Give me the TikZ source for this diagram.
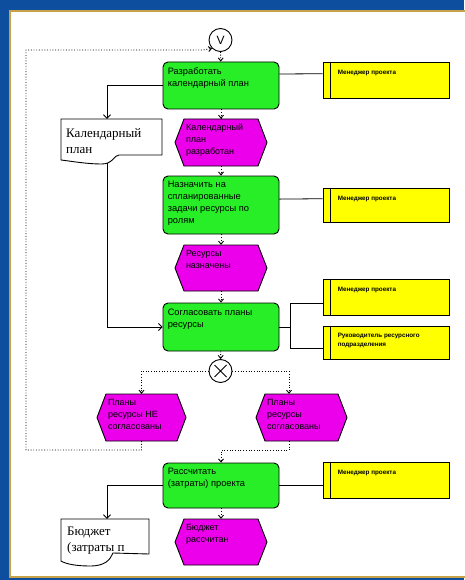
\documentclass[tikz,border=0pt]{standalone}
\usepackage{fontspec}
\setmainfont{Liberation Sans}
\newfontfamily\docfont{Liberation Serif}
\usetikzlibrary{arrows.meta,calc}
\definecolor{frameblue}{RGB}{14,78,158}
\definecolor{framegold}{RGB}{200,162,72}
\definecolor{fgreen}{RGB}{40,238,40}
\definecolor{emag}{RGB}{236,0,236}
\definecolor{oyel}{RGB}{255,255,0}
\tikzset{
  func/.style={draw, line width=0.9pt, fill=fgreen, rounded corners=5pt, minimum width=116pt, inner sep=0pt},
  orgbox/.style={draw, line width=0.9pt, fill=oyel, minimum width=126pt, inner sep=0pt},
  evshape/.style={draw, line width=0.9pt, fill=emag},
  evnode/.style={inner sep=0pt},
  docshape/.style={draw, line width=0.9pt, fill=white},
  txt/.style={anchor=north west, inner sep=0pt, align=left, font=\fontsize{9.3}{12}\selectfont},
  evtxt/.style={anchor=north west, inner sep=0pt, align=left, font=\fontsize{9}{12}\selectfont},
  orgtxt/.style={anchor=north west, inner sep=0pt, align=left, font=\bfseries\fontsize{6.3}{9}\selectfont},
  doctxt/.style={anchor=north west, inner sep=0pt, align=left, font=\docfont\fontsize{13}{16}\selectfont},
  conn/.style={line width=0.8pt},
  tip/.style={-{Straight Barb[length=3.5pt,width=7pt]}},
  flow/.style={line width=0.9pt, dash pattern=on 0.9pt off 1.8pt, -{Straight Barb[length=3pt,width=5pt]}},
  connector/.style={draw, circle, line width=0.9pt, fill=white, minimum size=23pt, inner sep=0pt}
}
\newcommand\evbox[6]{%
  \path[evshape] ({#2-#4/2},#3) -- ({#2-#4/2+9},{#3-#5/2}) -- ({#2+#4/2-9},{#3-#5/2})
     -- ({#2+#4/2},#3) -- ({#2+#4/2-9},{#3+#5/2}) -- ({#2-#4/2+9},{#3+#5/2}) -- cycle;
  \node[evnode, minimum width=#4, minimum height=#5] (#1) at (#2,#3) {};
  \node[evtxt] (#1t) at ($(#1.north west)+(11,5)$) {#6};
}
\begin{document}
\begin{tikzpicture}[x=1pt,y=-1pt]
\useasboundingbox (0,0) rectangle (464,580);
% frame
\fill[frameblue] (0,0) rectangle (464,580);
\fill[framegold] (9,10) rectangle (470,578);
\fill[white] (11,12) rectangle (470,576);

% connectors
\node[connector, font=\fontsize{12}{12}\selectfont] (V) at (220.5,40) {V};
\node[connector] (X) at (220.5,371) {};
\draw[line width=0.9pt] ($(X)+(-6,-6)$) -- ($(X)+(6,6)$) ($(X)+(-6,6)$) -- ($(X)+(6,-6)$);

% functions
\node[func, minimum height=47pt] (F1) at (221,85.5) {};
\node[txt] (F1t) at ($(F1.north west)+(5,6)$) {Разработать\\календарный план};
\node[func, minimum height=58pt] (F2) at (221,205) {};
\node[txt] (F2t) at ($(F2.north west)+(5,5)$) {Назначить на\\спланированные\\задачи ресурсы по\\ролям};
\node[func, minimum height=48pt] (F3) at (221,327) {};
\node[txt] (F3t) at ($(F3.north west)+(5,6)$) {Согласовать планы\\ресурсы};
\node[func, minimum height=45pt] (F4) at (221,485.5) {};
\node[txt] (F4t) at ($(F4.north west)+(5,5)$) {Рассчитать\\(затраты) проекта};

% events
\evbox{E1}{221}{142.5}{92}{47}{Календарный\\план\\разработан}
\evbox{E2}{221}{268}{92}{46}{Ресурсы\\назначены}
\evbox{E3}{141.5}{417.5}{89}{47}{Планы\\ресурсы НЕ\\согласованы}
\evbox{E4}{301.5}{417.5}{91}{47}{Планы\\ресурсы\\согласованы}
\evbox{E5}{221}{542}{92}{46}{Бюджет\\рассчитан}

% organisational units
\node[orgbox, minimum height=36pt] (Y1) at (386,80) {};
\node[orgbox, minimum height=34pt] (Y2) at (386,205) {};
\node[orgbox, minimum height=36pt] (Y3) at (386,297) {};
\node[orgbox, minimum height=33pt] (Y4) at (386,342.5) {};
\node[orgbox, minimum height=36pt] (Y5) at (386,480) {};
\foreach \y in {Y1,Y2,Y3,Y4,Y5}{
  \draw[line width=0.9pt] ($(\y.north west)+(8,0)$) -- ($(\y.south west)+(8,0)$);
}
\node[orgtxt] (Y1t) at ($(Y1.north west)+(15,8)$) {Менеджер проекта};
\node[orgtxt] (Y2t) at ($(Y2.north west)+(15,8)$) {Менеджер проекта};
\node[orgtxt] (Y3t) at ($(Y3.north west)+(15,8)$) {Менеджер проекта};
\node[orgtxt] (Y4t) at ($(Y4.north west)+(15,7)$) {Руководитель ресурсного\\подразделения};
\node[orgtxt] (Y5t) at ($(Y5.north west)+(15,8)$) {Менеджер проекта};

% documents
\path[docshape] (61,119) -- (162,119) -- (162,155) -- (119,155)
  .. controls (114,155) and (113,164) .. (102,164)
  .. controls (86,164) and (70,161) .. (61,160) -- cycle;
\node[inner sep=0pt, minimum width=101pt, minimum height=44pt] (D1) at (111.5,141) {};
\node[doctxt] (D1t) at (66,128) {Календарный\\план};

\path[docshape] (61,519) -- (149,519) -- (149,554) -- (113,553)
  .. controls (110,560) and (105,566) .. (90,566)
  .. controls (76,566) and (66,564) .. (61,561) -- cycle;
\node[inner sep=0pt, minimum width=88pt, minimum height=44pt] (D2) at (105,541) {};
\node[doctxt] (D2t) at (67,527) {Бюджет\\(затраты п};

% solid connections
\coordinate (d1in) at ($(D1.north)+(-4.5,0)$);
\coordinate (d1out) at ($(D1.south)+(-4.5,0)$);
\coordinate (d2in) at ($(D2.north)+(2,0)$);
\draw[conn, tip] (F1.west) -| (d1in);
\draw[conn, tip] (d1out) |- (F3.west);
\draw[conn, tip] (F4.west) -| (d2in);

\draw[conn] ($(F1.north east)!0.26!(F1.south east)$) -- ($(Y1.north west)!0.33!(Y1.south west)$);
\draw[conn] ($(F2.north east)!0.4!(F2.south east)$) -- ($(Y2.north west)!0.32!(Y2.south west)$);
\coordinate (f3j) at ($(F3.east)+(11,0)$);
\draw[conn] (F3.east) -- (f3j);
\draw[conn] ($(Y3.north west)!0.67!(Y3.south west)$) -| (f3j) |- ($(Y4.north west)!0.66!(Y4.south west)$);
\draw[conn] (F4.east) -- (Y5.west |- F4.east);

% control flow (dotted)
\draw[flow] (V) -- (F1);
\draw[flow] (F1) -- (E1);
\draw[flow] (E1) -- (F2);
\draw[flow] (F2) -- (E2);
\draw[flow] (E2) -- (F3);
\draw[flow] (F3) -- (X);
\coordinate (e4in) at ($(E4.north)+(-12.5,0)$);
\coordinate (e4out) at ($(E4.south)+(-12.5,0)$);
\draw[flow] (X.west) -| (E3.north);
\draw[flow] (X.east) -| (e4in);
\coordinate (loopA) at (26,450);
\coordinate (loopB) at (26,50);
\coordinate (loopC) at (203,50);
\draw[flow] (E3.south) |- (loopA) -- (loopB) -- (loopC) -- (V.south west);
\draw[flow] (e4out) -- ++(0,9) -| (F4.north);
\draw[flow] (F4) -- (E5);
\end{tikzpicture}
\end{document}
